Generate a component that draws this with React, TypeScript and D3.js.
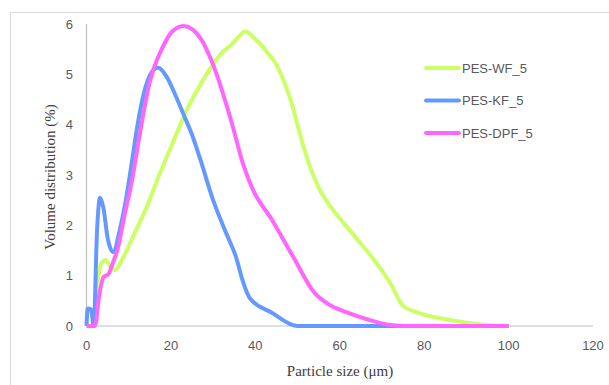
import React, { useEffect, useRef } from 'react';
import * as d3 from 'd3';

// particle size (µm) / volume distribution (%)
const wfX = [0, 1.5, 2.5, 3.5, 4.5, 5.5, 6.8, 8, 9.5, 12, 14.3, 17, 20, 23.8, 27, 30, 32, 34.7, 36, 37.6, 40, 42.7, 45, 48.2, 51.3, 53, 55, 58, 62.4, 70, 72, 75, 78, 86, 92.5, 96, 100];
const wfY = [0, 0, 0.8, 1.25, 1.31, 1.2, 1.11, 1.25, 1.5, 1.95, 2.37, 2.95, 3.55, 4.3, 4.8, 5.2, 5.42, 5.62, 5.74, 5.85, 5.7, 5.45, 5.19, 4.53, 3.6, 3.15, 2.75, 2.35, 1.9, 1.1, 0.85, 0.4, 0.28, 0.12, 0.04, 0.01, 0];

const kfX = [0, 0.3, 1.1, 1.7, 2.5, 3.2, 4.0, 5.0, 6.3, 8, 9, 10, 11, 12, 13, 14, 15, 16, 17, 19, 21, 23, 25, 27, 30, 32.8, 35.5, 37, 38.7, 44, 50, 75, 100];
const kfY = [0, 0.35, 0.33, 0, 1.9, 2.55, 2.35, 1.75, 1.47, 1.95, 2.35, 2.85, 3.4, 3.95, 4.4, 4.75, 4.98, 5.1, 5.13, 4.95, 4.6, 4.2, 3.8, 3.3, 2.5, 1.9, 1.35, 0.9, 0.55, 0.26, 0, 0, 0];

const dpfX = [0, 2, 3, 4, 5.2, 6, 7.5, 9, 10.8, 12.2, 15, 18, 20.3, 23, 25, 27, 30, 34.7, 37, 39.2, 44, 49, 54, 57, 62, 67, 72, 75, 100];
const dpfY = [0, 0, 0.6, 0.97, 1.03, 1.2, 1.57, 2.2, 2.9, 3.6, 4.85, 5.53, 5.85, 5.96, 5.9, 5.72, 5.19, 3.95, 3.24, 2.75, 2.1, 1.37, 0.66, 0.45, 0.26, 0.12, 0.02, 0, 0];

const seriesNames = ['PES-WF_5', 'PES-KF_5', 'PES-DPF_5'];
const seriesColors = ['#CCFF66', '#6699FF', '#FF66FF'];
const xTicks = [0, 20, 40, 60, 80, 100, 120];
const yTicks = [0, 1, 2, 3, 4, 5, 6];

const W = 609, H = 385;

export default function App() {
  const svgRef = useRef<SVGSVGElement>(null);

  useEffect(() => {
    const svg = d3.select(svgRef.current);
    svg.selectAll('*').remove();

    const x = d3.scaleLinear().domain([0, 120]).range([86.5, 593]);
    const y = d3.scaleLinear().domain([0, 6]).range([326, 24]);

    // chart frame
    svg.append('rect')
      .attr('x', 10.5).attr('y', 12.5).attr('width', 640).attr('height', 420)
      .attr('fill', '#fff').attr('stroke', '#d9d9d9');

    const tickFont = '"Liberation Sans", Arial, sans-serif';

    // axes lines
    svg.append('line').attr('x1', x(0)).attr('x2', x(0)).attr('y1', y(6)).attr('y2', y(0))
      .attr('stroke', '#bfbfbf').attr('stroke-width', 1.2);
    svg.append('line').attr('x1', x(0)).attr('x2', x(120)).attr('y1', y(0)).attr('y2', y(0))
      .attr('stroke', '#bfbfbf').attr('stroke-width', 1.2);

    svg.append('g').selectAll('text').data(yTicks).join('text')
      .attr('x', 73).attr('y', d => y(d)).attr('dy', '0.35em')
      .attr('text-anchor', 'end')
      .style('font-family', tickFont).style('font-size', '13px').style('fill', '#595959')
      .text(d => d);

    svg.append('g').selectAll('text').data(xTicks).join('text')
      .attr('x', d => x(d)).attr('y', 350)
      .attr('text-anchor', 'middle')
      .style('font-family', tickFont).style('font-size', '13px').style('fill', '#595959')
      .text(d => d);

    // axis titles
    svg.append('text')
      .attr('x', 340).attr('y', 376).attr('text-anchor', 'middle')
      .style('font-family', '"Liberation Serif", "Times New Roman", serif')
      .style('font-size', '15px').style('fill', '#404040')
      .text('Particle size (μm)');

    svg.append('text')
      .attr('transform', 'translate(55,177) rotate(-90)').attr('text-anchor', 'middle')
      .style('font-family', '"Liberation Serif", "Times New Roman", serif')
      .style('font-size', '15px').style('fill', '#404040')
      .text('Volume distribution (%)');

    const line = d3.line<[number, number]>()
      .x(d => x(d[0])).y(d => y(d[1]))
      .curve(d3.curveMonotoneX);

    const series: [number, number][][] = [
      wfX.map((v, i) => [v, wfY[i]]),
      kfX.map((v, i) => [v, kfY[i]]),
      dpfX.map((v, i) => [v, dpfY[i]]),
    ];

    series.forEach((pts, i) => {
      svg.append('path')
        .attr('d', line(pts))
        .attr('fill', 'none')
        .attr('stroke', seriesColors[i])
        .attr('stroke-width', 4)
        .attr('stroke-linejoin', 'round');
    });

    // legend
    const lg = svg.append('g');
    seriesNames.forEach((name, i) => {
      const ly = 68 + i * 32.5;
      lg.append('line').attr('x1', 426).attr('x2', 459).attr('y1', ly).attr('y2', ly)
        .attr('stroke', seriesColors[i]).attr('stroke-width', 4).attr('stroke-linecap', 'round');
      lg.append('text').attr('x', 462).attr('y', ly).attr('dy', '0.35em')
        .style('font-family', tickFont).style('font-size', '13px').style('fill', '#595959')
        .text(name);
    });
  }, []);

  return (
    <svg ref={svgRef} width={W} height={H}
      style={{ position: 'absolute', left: 0, top: 0, background: '#fff' }} />
  );
}
